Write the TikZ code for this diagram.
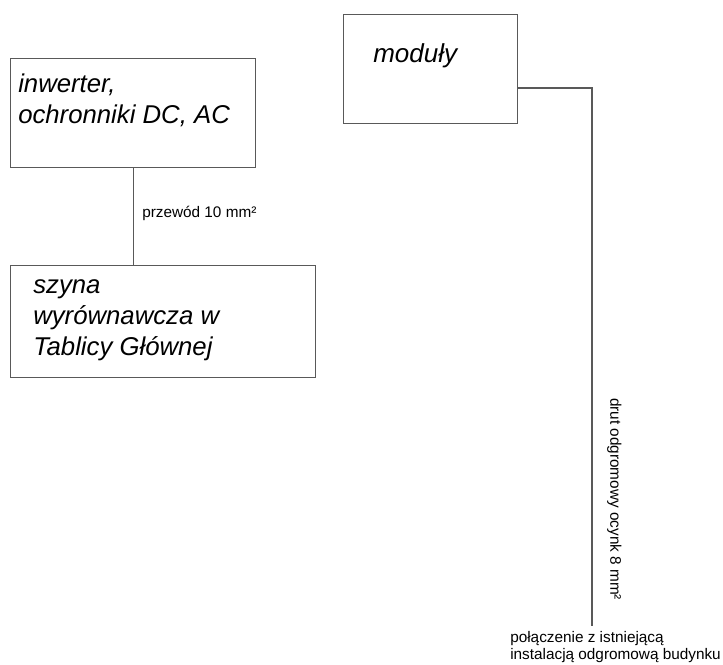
\documentclass[tikz,border=0pt]{standalone}
\usepackage{fontspec}
\usepackage{tikz}
\newfontfamily\arialfont{Liberation Sans}

\tikzset{
  box/.style={draw=black!65, line width=0.8pt, rectangle, anchor=north west, inner sep=0pt},
  boxtext/.style={anchor=base west, inner sep=0pt, align=left,
    font=\arialfont\itshape\fontsize{19.3pt}{23.25pt}\selectfont},
  wire/.style={draw=black!65, line width=0.8pt},
  note/.style={inner sep=0pt, align=left,
    font=\arialfont\fontsize{11.5pt}{12.75pt}\selectfont}
}

\begin{document}
\begin{tikzpicture}[x=0.75pt,y=-0.75pt]
            \useasboundingbox (0,0) rectangle (723,664);
            % boxes
            \node[box, minimum width=245*0.75pt, minimum height=109*0.75pt] (inw) at (10,58) {};
            \node[box, minimum width=305*0.75pt, minimum height=112*0.75pt] (szy) at (10,265) {};
            \node[box, minimum width=174*0.75pt, minimum height=109*0.75pt] (mod) at (343,14) {};
            \node[boxtext] (inwtxt) at (18,123) {inwerter,\\ochronniki DC, AC};
            \node[boxtext] (szytxt) at (33,355) {szyna\\wyrównawcza w\\Tablicy Głównej};
            \node[boxtext, font=\arialfont\itshape\fontsize{19.5pt}{23.25pt}\selectfont] (modtxt) at (373,62) {moduły};
            % connections
            \draw[wire] (inw.south) -- (inw.south |- szy.north);
            \node[note, anchor=base west] (przewod) at (142,217) {przewód 10 mm²};
            \coordinate (bend) at (592,88);
            \coordinate (ground) at (592,626);
            \draw[wire] (mod.east |- bend) -- (bend) -- (ground);
            \node[note, rotate=-90, anchor=south] (drut) at (607,499) {drut odgromowy ocynk 8 mm²};
            \node[note, anchor=base west] (polacz) at (510,659) {połączenie z istniejącą\\instalacją odgromową budynku};
\end{tikzpicture}
\end{document}
